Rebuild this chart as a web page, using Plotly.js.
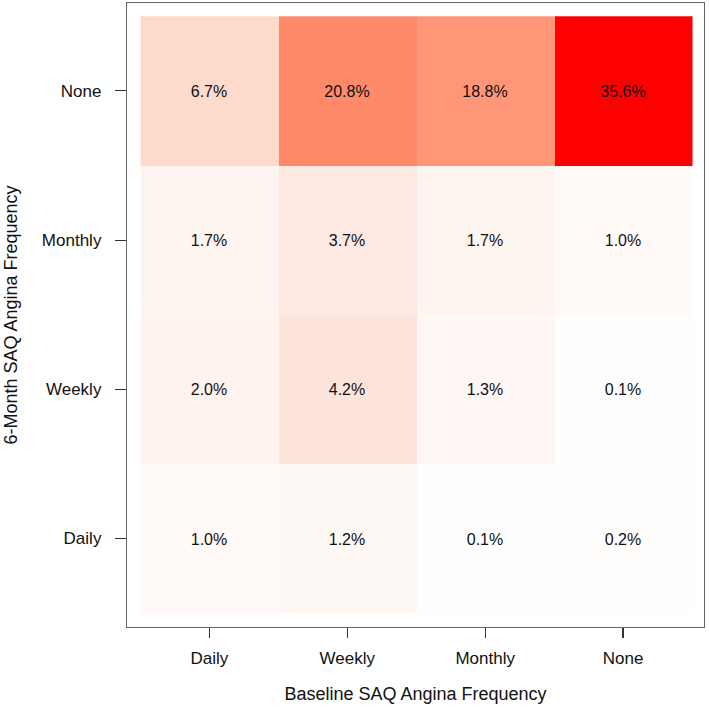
<!DOCTYPE html>
<html>
<head>
<meta charset="utf-8">
<script src="https://cdn.plot.ly/plotly-3.0.1.min.js"></script>
<style>html,body{margin:0;padding:0;background:#fff;}#chart{width:709px;height:709px;}</style>
</head>
<body>
<div id="chart"></div>
<script>
// Baseline categories (columns) and 6-month categories (rows, bottom to top)
var baselineLabels = ["Daily", "Weekly", "Monthly", "None"];
var sixMonthLabels = ["Daily", "Weekly", "Monthly", "None"];

// Percentages per 6-month row (bottom to top), columns = baseline
var rowDaily   = [1.0, 1.2, 0.1, 0.2];
var rowWeekly  = [2.0, 4.2, 1.3, 0.1];
var rowMonthly = [1.7, 3.7, 1.7, 1.0];
var rowNone    = [6.7, 20.8, 18.8, 35.6];

var z = [rowDaily, rowWeekly, rowMonthly, rowNone];
var xIdx = baselineLabels.map(function(_, i){ return i; });
var yIdx = sixMonthLabels.map(function(_, i){ return i; });

var trace = {
  type: "heatmap",
  x: xIdx,
  y: yIdx,
  z: z,
  zmin: 0,
  zmax: 35.6,
  colorscale: [
    [0, "#ffffff"],
    [0.12, "#fde5dd"],
    [0.19, "#fedacd"],
    [0.53, "#ff9678"],
    [0.585, "#ff8a6a"],
    [1, "#ff0000"]
  ],
  showscale: false,
  texttemplate: "%{z:.1f}%",
  textfont: {family: "Liberation Sans, Arial, sans-serif", size: 16, color: "#111"},
  hoverinfo: "skip"
};

var layout = {
  width: 709,
  height: 709,
  margin: {l: 127, r: 5, t: 3, b: 82},
  paper_bgcolor: "#fff",
  plot_bgcolor: "#fff",
  font: {family: "Liberation Sans, Arial, sans-serif", size: 17, color: "#111"},
  xaxis: {
    range: [-0.598, 3.587],
    tickvals: xIdx,
    ticktext: baselineLabels,
    ticks: "outside",
    ticklen: 10,
    tickwidth: 1.2,
    tickcolor: "#333",
    ticklabelstandoff: 5,
    showgrid: false,
    zeroline: false,
    showline: true,
    mirror: true,
    linecolor: "#666",
    linewidth: 1.2,
    tickfont: {size: 17},
    title: {text: "Baseline SAQ Angina Frequency", font: {size: 18}, standoff: 20}
  },
  yaxis: {
    range: [-0.593, 3.589],
    tickvals: yIdx,
    ticktext: sixMonthLabels,
    ticks: "outside",
    ticklen: 11,
    tickwidth: 1.2,
    tickcolor: "#333",
    ticklabelstandoff: 10,
    showgrid: false,
    zeroline: false,
    showline: true,
    mirror: true,
    linecolor: "#666",
    linewidth: 1.2,
    tickfont: {size: 17},
    title: {text: "6-Month SAQ Angina Frequency", font: {size: 18}, standoff: 19}
  }
};

Plotly.newPlot("chart", [trace], layout, {displayModeBar: false, staticPlot: true});
</script>
</body>
</html>
